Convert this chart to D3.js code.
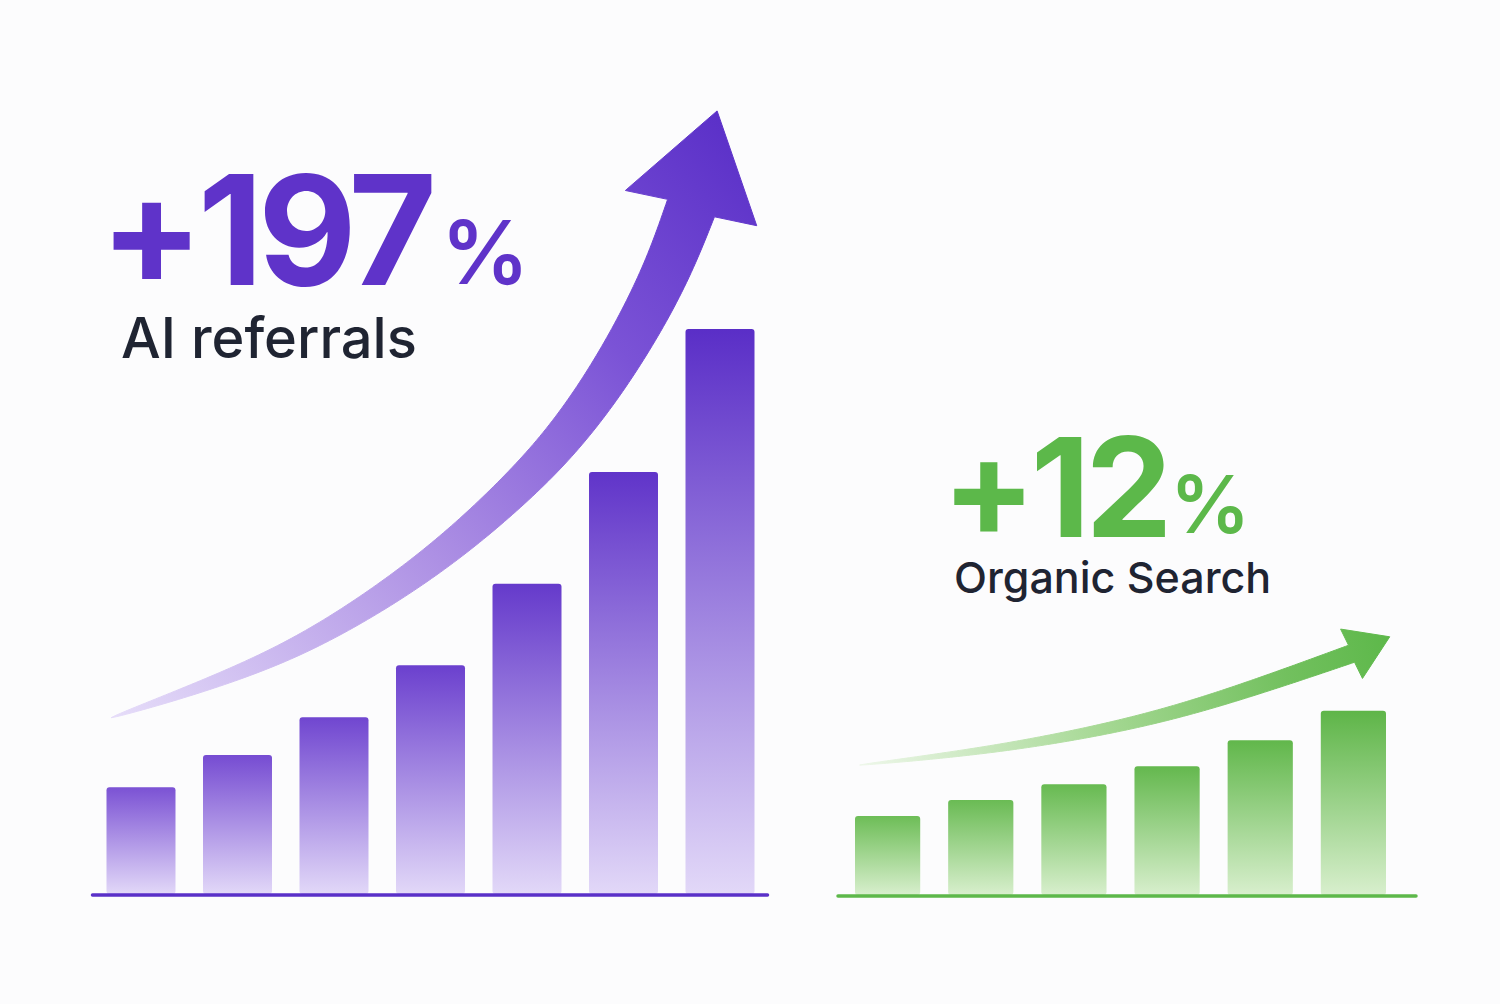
<!DOCTYPE html>
<html>
<head>
<meta charset="utf-8">
<script src="https://cdn.jsdelivr.net/npm/d3@7"></script>
<style>
  body { margin: 0; background: #fcfcfd; }
  svg { display: block; }
</style>
</head>
<body>
<svg id="chart" width="1500" height="1004"></svg>
<script>
// bar heights, relative units (tallest AI bar = 100)
const aiValues = [18.9, 24.6, 31.3, 40.5, 54.9, 74.7, 100];
const organicValues = [14.0, 16.8, 19.6, 22.8, 27.4, 32.6];

// trend arrows: [bar index, value] along the centre line, plus the head tip
const aiTrend = [[-0.31, 31.2], [0.61, 36.5], [1.54, 42.8], [2.37, 51.0], [3.10, 59.8], [3.72, 68.9],
                 [4.29, 78.6], [4.76, 89.2], [5.17, 100.7], [5.48, 111.3], [5.70, 121.4]];
const aiTrendTip = [5.97, 138.6];
const organicTrend = [[-0.30, 23.0], [1.18, 25.7], [2.61, 30.1], [3.69, 35.2], [4.98, 42.7]];
const organicTrendTip = [5.39, 45.7];

const headlines = ["+197", "+12"];
const labels = ["AI referrals", "Organic Search"];

const svg = d3.select("#chart");
const defs = svg.append("defs");

let xAi = d3.scaleBand().domain(d3.range(aiValues.length)).range([106.5, 754.5]).paddingInner(0.285).paddingOuter(0);
let yAi = d3.scaleLinear().domain([0, 100]).range([894, 329]);
let xOrg = d3.scaleBand().domain(d3.range(organicValues.length)).range([855, 1386]).paddingInner(0.3).paddingOuter(0);
let yOrg = d3.scaleLinear().domain([0, 100]).range([895, 330]);

function centerScale(band, n) {
    let bw = band.bandwidth();
    return d3.scaleLinear().domain([0, n - 1]).range([band(0) + bw / 2, band(n - 1) + bw / 2]);
}

function drawBars(id, values, x, y, topFrom, topTo, bottom) {
    let g = svg.append("g");
    values.forEach((v, i) => {
        let grad = defs.append("linearGradient").attr("id", id + i)
            .attr("x1", 0).attr("y1", 0).attr("x2", 0).attr("y2", 1);
        grad.append("stop").attr("offset", 0).attr("stop-color", d3.interpolateRgb(topFrom, topTo)(i / (values.length - 1)));
        grad.append("stop").attr("offset", 1).attr("stop-color", bottom);
    });
    g.selectAll("rect").data(values).enter().append("rect")
        .attr("x", (d, i) => x(i)).attr("width", x.bandwidth())
        .attr("y", d => y(d)).attr("height", d => y(0) - y(d))
        .attr("rx", 3)
        .style("fill", (d, i) => "url(#" + id + i + ")");
}

function drawBaseline(x, y, color, ext) {
    let r = x.range();
    svg.append("line").attr("x1", r[0] - ext[0]).attr("x2", r[1] + ext[1])
        .attr("y1", y(0) + 1).attr("y2", y(0) + 1)
        .style("stroke", color).style("stroke-width", 3.5).style("stroke-linecap", "round");
}

// tapered curved arrow built from the centre line
function drawArrow(id, pts, tip, xs, ys, maxW, headHalf, stops) {
    let px = pts.map(p => [xs(p[0]), ys(p[1])]);
    let t = [xs(tip[0]), ys(tip[1])];
    let grad = defs.append("linearGradient").attr("id", id).attr("gradientUnits", "userSpaceOnUse")
        .attr("x1", px[0][0]).attr("y1", px[0][1]).attr("x2", t[0]).attr("y2", t[1]);
    stops.forEach(s => grad.append("stop").attr("offset", s[0]).attr("stop-color", s[1]));

    let tmp = svg.append("path").attr("d", d3.line().curve(d3.curveBasis)(px)).style("fill", "none");
    let node = tmp.node(), L = node.getTotalLength();
    let N = 150, left = [], right = [];
    for (let k = 0; k <= N; k++) {
        let s = L * k / N, p = node.getPointAtLength(s);
        let a = node.getPointAtLength(Math.max(0, s - 2)), b = node.getPointAtLength(Math.min(L, s + 2));
        let dx = b.x - a.x, dy = b.y - a.y, len = Math.hypot(dx, dy);
        dx /= len; dy /= len;
        let w = maxW * Math.pow(k / N, 0.7) / 2;
        left.push([p.x - dy * w, p.y + dx * w]);
        right.push([p.x + dy * w, p.y - dx * w]);
    }
    tmp.remove();

    let base = px[px.length - 1];
    let hx = t[0] - base[0], hy = t[1] - base[1], hl = Math.hypot(hx, hy);
    hx /= hl; hy /= hl;
    let c1 = [base[0] - hy * headHalf, base[1] + hx * headHalf],
        c2 = [base[0] + hy * headHalf, base[1] - hx * headHalf];
    let poly = left.concat([c1, t, c2], right.reverse());
    svg.append("path").attr("d", d3.line()(poly) + "Z")
        .style("fill", "url(#" + id + ")").style("stroke", "url(#" + id + ")").style("stroke-width", 1).style("stroke-linejoin", "round");
}

drawArrow("aiArrow", aiTrend, aiTrendTip, centerScale(xAi, aiValues.length), yAi, 50, 68,
    [[0, "#e6ddf9"], [0.4, "#ad90e4"], [0.72, "#7b53d6"], [1, "#5b30c8"]]);
drawArrow("orgArrow", organicTrend, organicTrendTip, centerScale(xOrg, organicValues.length), yOrg, 18, 27,
    [[0, "#eef7ea"], [0.45, "#a5d893"], [0.8, "#72c05e"], [1, "#5db84a"]]);

drawBars("aiBar", aiValues, xAi, yAi, "#7b52d4", "#5a2ec7", "#e2d8f8");
drawBars("orgBar", organicValues, xOrg, yOrg, "#6dbd57", "#5eb548", "#d8efcd");

drawBaseline(xAi, yAi, "#5a30c8", [14, 13]);
drawBaseline(xOrg, yOrg, "#5db84a", [17, 30]);

// headline numbers and labels
const font = "Inter, 'Noto Sans', sans-serif";
function headline(txt, x, y, size, pctX, pctY, pctSize, color) {
    svg.append("text").attr("x", x).attr("y", y).text(txt)
        .style("font-family", font).style("font-weight", 700).style("font-size", size + "px")
        .style("letter-spacing", "-0.035em").style("fill", color);
    svg.append("text").attr("x", pctX).attr("y", pctY).text("%")
        .style("font-family", font).style("font-weight", 600).style("font-size", pctSize + "px").style("fill", color);
}
headline(headlines[0], 100, 285, 152, 441, 284, 88, "#5f33c9");
headline(headlines[1], 942, 537, 138, 1170, 533, 80, "#5cb84a");

svg.append("text").attr("x", 121).attr("y", 358).text(labels[0])
    .style("font-family", font).style("font-weight", 500).style("font-size", "56px").style("fill", "#1f2432");
svg.append("text").attr("x", 954).attr("y", 593).text(labels[1])
    .style("font-family", font).style("font-weight", 500).style("font-size", "43px").style("fill", "#1f2432");
</script>
</body>
</html>
